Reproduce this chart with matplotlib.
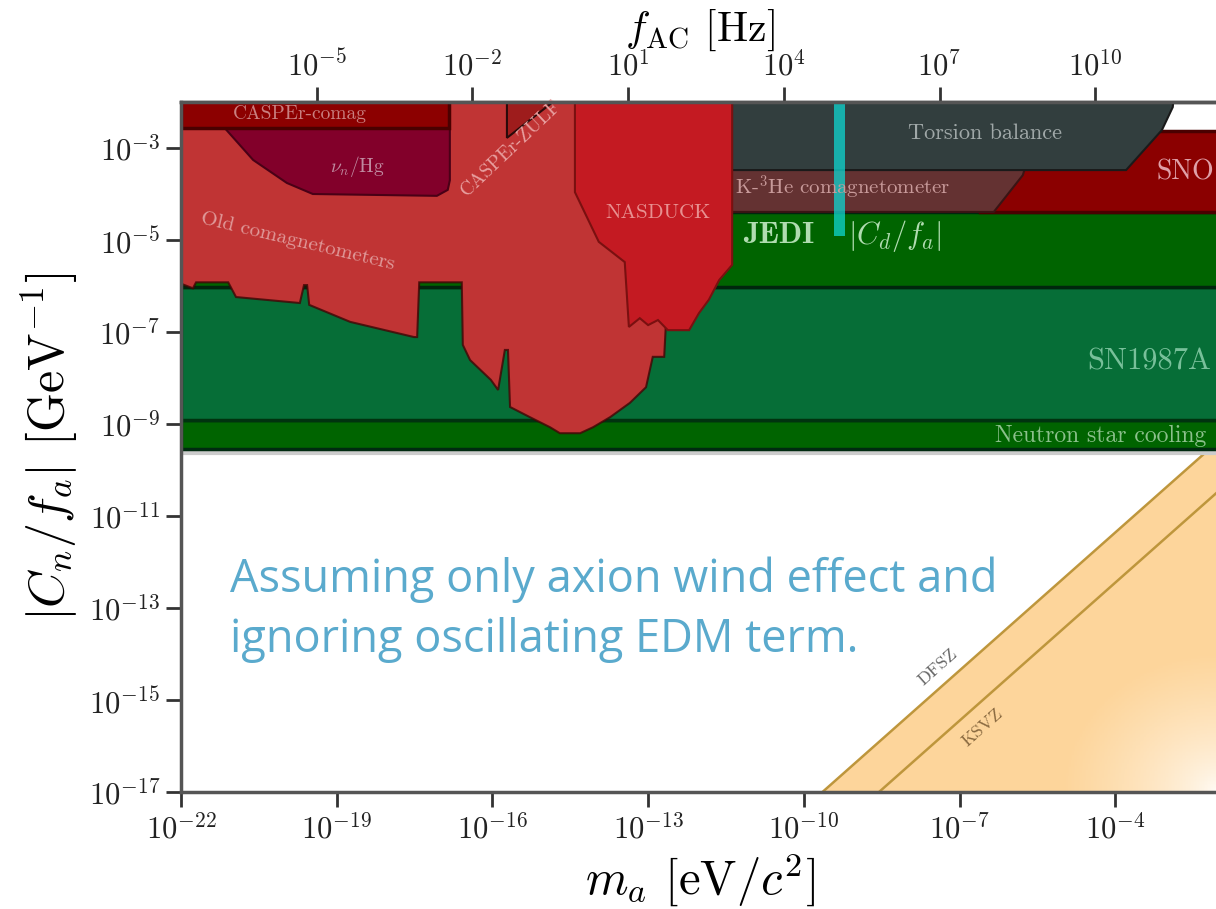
import numpy as np
import matplotlib
matplotlib.use('Agg')
from matplotlib import pyplot as plt
from matplotlib.patches import Polygon
from matplotlib.colors import LinearSegmentedColormap
from matplotlib.ticker import FixedLocator, FuncFormatter, NullLocator

# Fontes estilo LaTeX
plt.rcParams['mathtext.fontset'] = 'cm'
plt.rcParams['font.family'] = ['cmr10', 'DejaVu Serif']
plt.rcParams['axes.formatter.use_mathtext'] = True

# Limites em log10: massa m_a [eV] e acoplamento |C_n/f_a| [GeV^-1]
topo = -1.5

caspEr_comag_m = [-22.0, -16.84]
caspEr_comag_g = -2.56

nhg_m = [-21.21, -20.61, -19.96, -19.46, -17.07, -16.86, -16.82, -16.82, -21.21]
nhg_g = [-2.50, -3.26, -3.76, -4.00, -4.04, -3.91, -3.70, -2.50, -2.50]

old_comag_m = [-22.0, -21.77, -21.71, -21.09, -20.94, -19.71, -19.63, -19.57, -19.53,
               -18.74, -17.51, -17.45, -17.41, -16.59, -16.57, -16.43, -16.03, -15.89,
               -15.76, -15.70, -15.66, -15.28, -14.89, -14.70, -14.31, -14.06, -13.73,
               -13.35, -13.04, -12.91, -12.69, -12.66, -12.58, -22.0]
old_comag_g = [-5.95, -6.05, -5.92, -5.92, -6.24, -6.37, -5.98, -5.98, -6.41,
               -6.78, -7.11, -7.11, -5.92, -5.92, -7.28, -7.61, -8.04, -8.26,
               -7.39, -7.39, -8.63, -8.85, -9.07, -9.20, -9.20, -9.07, -8.85,
               -8.54, -8.20, -7.54, -7.54, -6.89, topo, topo]

zulf_m = [-15.72, -15.72, -14.72]
zulf_g = [topo, -2.78, -1.90]

nasduck_m = [-14.41, -14.41, -13.95, -13.45, -13.37, -13.16, -13.00, -12.81, -12.62,
             -12.21, -12.02, -11.83, -11.63, -11.38, -11.38]
nasduck_g = [topo, -3.96, -5.04, -5.48, -6.89, -6.70, -6.85, -6.74, -6.96,
             -6.96, -6.59, -6.30, -5.87, -5.54, topo]

torsion_m = [-11.42, -11.42, -3.79, -3.10, -2.89, -2.85]
torsion_g = [topo, -3.48, -3.48, -2.61, -2.11, topo]

k3he_m = [-11.42, -11.42, -6.34, -5.78, -5.70]
k3he_g = [-3.30, -4.39, -4.39, -3.59, -3.30]

sno_m = [-6.6, -2.0]
sno_g = [-4.39, -2.63]

faixa_m = [-22.0, -2.0]
jedi_g = [-6.02, -4.40]
sn1987a_g = [-8.91, -6.02]
ns_g = [-9.54, -8.91]
ns_linha_g = -9.63

jedi_dm_m = [-9.42, -9.20]
jedi_dm_g = -4.92

# Linhas do axion QCD: g = C m
qcd_m = [-9.64, -1.5]
dfsz_g = [-17.0, -8.86]
ksvz_g = [-18.09, -9.95]

# Eixos
eixo_x_ticks = [-22, -19, -16, -13, -10, -7, -4]
eixo_y_ticks = [-3, -5, -7, -9, -11, -13, -15, -17]
eixo_top_ticks = [-5, -2, 1, 4, 7, 10]

fig = plt.figure(figsize=(12.16, 9.09), dpi=100)
ax = fig.add_axes([181 / 1216, 1 - 792 / 909, 1038 / 1216, 690 / 909])
ax.set_xscale('log')
ax.set_yscale('log')
ax.set_xlim(1e-22, 1e-2)
ax.set_ylim(1e-17, 1e-2)


def p(ms, gs):
    return np.column_stack([10.0 ** np.array(ms), 10.0 ** np.array(gs)])


def regiao(ms, gs, cor, borda=(0, 0, 0, 0.55), z=2, lw=1.5):
    ax.add_patch(Polygon(p(ms, gs), closed=True, facecolor=cor, edgecolor=borda, lw=lw, zorder=z))


def faixa(g_lo, g_hi, ms, cor, borda, z):
    regiao([ms[0], ms[1], ms[1], ms[0]], [g_lo, g_lo, g_hi, g_hi], cor, borda, z, lw=2.5)


# Banda do axion QCD com degradê
cmap = LinearSegmentedColormap.from_list('qcd', ['#ffffff', '#fdd59b'])
lm = np.linspace(-10.5, -1.5, 300)
lg = np.linspace(-17.5, -8.5, 300)
LM, LG = np.meshgrid(lm, lg)
t = np.clip(np.hypot(-2 - LM, LG + 17) / 3.0, 0, 1) ** 0.6
tri = Polygon(p([qcd_m[0], qcd_m[1], qcd_m[1]], [dfsz_g[0], dfsz_g[1], -17.5]),
              closed=True, transform=ax.transData, facecolor='none', edgecolor='none')
mesh = ax.pcolormesh(10 ** lm, 10 ** lg, t, cmap=cmap, vmin=0, vmax=1, shading='auto', zorder=1)
mesh.set_clip_path(tri)
ax.plot(10.0 ** np.array(qcd_m), 10.0 ** np.array(dfsz_g), color='#be963c', lw=1.8, zorder=1.5)
ax.plot(10.0 ** np.array(qcd_m), 10.0 ** np.array(ksvz_g), color='#be963c', lw=1.8, zorder=1.5)

# Faixas horizontais
ax.axhline(10 ** ns_linha_g, color='#cccccc', lw=3, zorder=1.6)
faixa(ns_g[0], ns_g[1], faixa_m, '#006400', '#002a10', 2)
faixa(sn1987a_g[0], sn1987a_g[1], faixa_m, '#066e37', '#00330f', 2.1)
faixa(jedi_g[0], jedi_g[1], faixa_m, '#006400', '#00260d', 2.2)
faixa(sno_g[0], sno_g[1], sno_m, '#8b0000', '#4a0000', 2.3)

# Regiões de exclusão
regiao(k3he_m, k3he_g, '#643232', '#3a1414', 2.4)
regiao(torsion_m, torsion_g, '#323e3e', '#1a1a1a', 2.5)
regiao(old_comag_m, old_comag_g, '#c03434', (0.25, 0.02, 0.02, 0.8), 2.6)
regiao(zulf_m, zulf_g, '#9e1c1c', '#2a0a0a', 2.7)
regiao(nhg_m, nhg_g, '#82002a', '#4a0016', 2.8)
faixa(caspEr_comag_g, topo, caspEr_comag_m, '#8c0000', '#4a0000', 2.9)
regiao(nasduck_m, nasduck_g, '#c41a22', '#7a1010', 3)
faixa(jedi_dm_g, topo, jedi_dm_m, (0.06, 0.84, 0.82, 0.75), 'none', 3.1)

# Rótulos das regiões
def rotulo(m, g, s, cor, size, rot=0, ha='center', **kw):
    ax.text(10 ** m, 10 ** g, s, color=cor, fontsize=size, rotation=rot, ha=ha, va='center',
            rotation_mode='anchor', zorder=5, **kw)


rotulo(-19.71, -2.27, 'CASPEr-comag', '#c98080', 14)
rotulo(-18.61, -3.41, r'$\nu_n/{\rm Hg}$', '#c08aa0', 14)
rotulo(-19.75, -5.04, 'Old comagnetometers', '#e09a9a', 15, rot=-13.5)
rotulo(-15.64, -3.0, 'CASPEr-ZULF', '#e8a0a0', 14, rot=43.5)
rotulo(-12.81, -4.41, 'NASDUCK', '#e89090', 15)
rotulo(-6.51, -2.67, 'Torsion balance', '#a0a8a8', 16)
rotulo(-9.26, -3.87, r'K-$^3$He comagnetometer', '#c89a9a', 15)
rotulo(-3.21, -3.52, 'SNO', '#e0a0a8', 20, ha='left')
rotulo(-11.17, -4.91, 'JEDI', '#b0dcb0', 22, ha='left', fontfamily='cmb10')
rotulo(-9.15, -4.91, r'$|C_d/f_a|$', '#b0dcb0', 22, ha='left')
rotulo(-4.54, -7.65, 'SN1987A', '#78c09a', 22, ha='left')
rotulo(-6.32, -9.25, 'Neutron star cooling', '#8cc08c', 17, ha='left')
rotulo(-7.41, -14.28, 'DFSZ', '#666666', 13, rot=41.5)
rotulo(-6.55, -15.6, 'KSVZ', '#8a6a40', 13, rot=41.5)

# Formatação dos eixos
fmt = FuncFormatter(lambda v, pos: r'$10^{%d}$' % int(round(np.log10(v))))
ax.xaxis.set_major_locator(FixedLocator([10.0 ** k for k in eixo_x_ticks]))
ax.yaxis.set_major_locator(FixedLocator([10.0 ** k for k in eixo_y_ticks]))
ax.xaxis.set_major_formatter(fmt)
ax.yaxis.set_major_formatter(fmt)
ax.xaxis.set_minor_locator(NullLocator())
ax.yaxis.set_minor_locator(NullLocator())
ax.tick_params(which='major', direction='out', length=11, width=2, color='#333333',
               labelsize=22, pad=4, labelcolor='#222222')
for s in ax.spines.values():
    s.set_color('#555555')
    s.set_linewidth(2.5)
    s.set_zorder(6)

secax = ax.secondary_xaxis('top', functions=(lambda m: m * 2.418e14, lambda f: f / 2.418e14))
secax.xaxis.set_major_locator(FixedLocator([10.0 ** k for k in eixo_top_ticks]))
secax.xaxis.set_major_formatter(fmt)
secax.xaxis.set_minor_locator(NullLocator())
secax.tick_params(which='major', direction='out', length=11, width=2, color='#333333',
                  labelsize=22, pad=4, labelcolor='#222222')
secax.spines['top'].set_color('#555555')
secax.spines['top'].set_linewidth(2.5)

ax.set_xlabel(r'$m_a$ [eV/$c^2$]', fontsize=35, labelpad=6)
ax.set_ylabel(r'$|C_n/f_a|$ [GeV$^{-1}$]', fontsize=36, labelpad=6)
secax.set_xlabel(r'$f_{\rm AC}$ [Hz]', fontsize=30, labelpad=6)

# Nota
fig.text(230 / 1216, 1 - 592 / 909, 'Assuming only axion wind effect and', fontfamily='Open Sans',
         color='#5aaacd', fontsize=32.5, va='baseline')
fig.text(230 / 1216, 1 - 652 / 909, 'ignoring oscillating EDM term.', fontfamily='Open Sans',
         color='#5aaacd', fontsize=32.5, va='baseline')

fig.savefig('out.png', dpi=100)
